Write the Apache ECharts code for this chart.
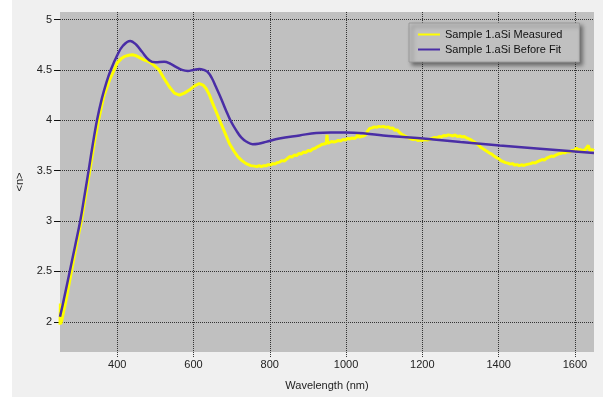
<!DOCTYPE html>
<html>
<head>
<meta charset="utf-8">
<script src="https://cdn.jsdelivr.net/npm/echarts@6/dist/echarts.min.js"></script>
<style>
html,body{margin:0;padding:0;background:#ffffff;}
#chart{position:absolute;left:12px;top:0;width:591px;height:397px;}
</style>
</head>
<body>
<div id="chart"></div>
<script>
var seriesNames = ['Sample 1.aSi Measured', 'Sample 1.aSi Before Fit'];
var xTicks = [400, 600, 800, 1000, 1200, 1400, 1600];
var yTicks = [2, 2.5, 3, 3.5, 4, 4.5, 5];

var measuredWl = [250,251,252,255,265,280,293,306,317,328,340,351,365,380,392,400,410,420,430,440,450,460,470,484,495,510,522,537,550,563,576,589,602,615,625,633,642,650,660,672,683,694,705,716,727,738,750,
  760,766,772,778,784,790,796,802,808,814,820,826,832,838,844,852,858,864,870,876,882,888,894,900,906,912,918,924,930,936,942,948,950,952,956,962,968,974,980,986,992,998,
  1004,1010,1016,1022,1028,1031,1034,1040,1046,1052,1056,1062,1068,1074,1080,1086,1092,1098,1104,1110,1116,1122,1128,1134,1140,1146,1152,1158,1164,1170,1176,1182,1188,1194,1200,
  1206,1212,1219,1226,1232,1238,1244,1250,1256,1262,1268,1274,1280,1286,1292,1298,1304,1310,1316,1322,1328,1334,1340,1346,1352,1358,1364,1370,1376,1382,1388,1394,1400,
  1406,1412,1418,1424,1430,1436,1442,1448,1454,1460,1466,1472,1478,1484,1490,1496,1502,1508,1514,1520,1526,1532,1538,1544,1550,1556,1562,1568,1574,1580,1586,1592,1598,
  1604,1608,1614,1620,1626,1631,1635,1639,1645,1650];
var measuredN = [1.97,2.18,1.98,2.02,2.2,2.5,2.76,3.0,3.25,3.5,3.78,4.0,4.24,4.4,4.5,4.57,4.61,4.635,4.645,4.65,4.64,4.62,4.6,4.58,4.55,4.5,4.42,4.33,4.27,4.25,4.27,4.3,4.34,4.365,4.35,4.315,4.25,4.17,4.08,3.97,3.87,3.77,3.7,3.64,3.6,3.57,3.55,
  3.545,3.54,3.55,3.54,3.55,3.548,3.56,3.556,3.57,3.565,3.58,3.585,3.6,3.595,3.615,3.64,3.635,3.655,3.65,3.67,3.665,3.685,3.68,3.7,3.695,3.715,3.72,3.735,3.745,3.76,3.765,3.77,3.855,3.77,3.78,3.79,3.785,3.79,3.8,3.795,3.81,3.805,
  3.82,3.815,3.825,3.82,3.835,3.875,3.83,3.84,3.845,3.86,3.89,3.92,3.925,3.935,3.93,3.94,3.935,3.94,3.93,3.935,3.92,3.925,3.9,3.905,3.88,3.86,3.85,3.835,3.825,3.815,3.81,3.815,3.8,3.805,3.8,
  3.81,3.805,3.81,3.82,3.83,3.825,3.84,3.835,3.85,3.845,3.855,3.85,3.845,3.855,3.84,3.845,3.835,3.84,3.825,3.815,3.805,3.79,3.775,3.76,3.735,3.72,3.705,3.69,3.675,3.665,3.645,3.63,3.62,
  3.6,3.59,3.58,3.575,3.565,3.57,3.555,3.56,3.55,3.558,3.552,3.56,3.565,3.57,3.58,3.575,3.59,3.6,3.61,3.605,3.625,3.635,3.645,3.64,3.655,3.665,3.67,3.68,3.675,3.69,3.685,3.7,3.695,
  3.725,3.705,3.71,3.7,3.705,3.69,3.75,3.7,3.71,3.7];

var fitWl = [250,260,275,290,303,315,325,335,347,360,372,383,400,415,434,450,465,484,500,523,540,554,570,585,600,615,627,637,648,659,672,685,698,712,725,738,755,770,790,825,878,922,960,1000,1050,1097,1150,1202,1300,1403,1500,1600,1650];
var fitN = [2.05,2.22,2.49,2.76,3.0,3.27,3.5,3.74,4.0,4.22,4.38,4.5,4.646,4.74,4.788,4.75,4.68,4.596,4.575,4.58,4.56,4.53,4.5,4.49,4.5,4.51,4.5,4.48,4.42,4.33,4.22,4.1,3.99,3.9,3.83,3.79,3.763,3.768,3.786,3.82,3.85,3.875,3.88,3.88,3.87,3.85,3.835,3.82,3.785,3.75,3.72,3.69,3.675];

function pairs(xs, ys){ return xs.map(function(x,i){ return [x, ys[i]]; }); }

var chart = echarts.init(document.getElementById('chart'), null, {renderer:'canvas'});
var font = 'Liberation Sans, Arial, sans-serif';
chart.setOption({
  backgroundColor: '#f0f0f0',
  animation: false,
  grid: {left: 48, right: 9, top: 12, bottom: 45, show: true, backgroundColor: '#c0c0c0', borderWidth: 0,
    outerBoundsMode: 'none', containLabel: false},
  legend: {
    orient: 'vertical', left: 397, top: 23,
    padding: [6, 17, 7, 9], itemWidth: 22, itemHeight: 2, itemGap: 4,
    backgroundColor: '#c0c0c0', borderColor: '#9a9a9a', borderWidth: 1,
    shadowColor: 'rgba(0,0,0,0.45)', shadowBlur: 4, shadowOffsetX: 3, shadowOffsetY: 3,
    textStyle: {fontFamily: font, fontSize: 11, color: '#111'},
    data: [{name: seriesNames[0], icon: 'rect'}, {name: seriesNames[1], icon: 'rect'}]
  },
  xAxis: {
    type: 'value', min: 250, max: 1650,
    name: 'Wavelength (nm)', nameLocation: 'middle', nameGap: 28,
    nameTextStyle: {fontFamily: font, fontSize: 11, color: '#222'},
    axisLine: {show: false},
    axisTick: {show: true, length: 5, customValues: xTicks, lineStyle: {color: '#333', type: [1,1]}},
    axisLabel: {customValues: xTicks, fontFamily: font, fontSize: 11, color: '#222', margin: 7,
      formatter: function(v){ return String(v); }},
    splitLine: {show: true, lineStyle: {color: '#333', width: 1, type: [1,1]}}
  },
  yAxis: {
    type: 'value', min: 1.7, max: 5.075,
    name: '<n>', nameLocation: 'middle', nameGap: 28, nameRotate: 90,
    nameTextStyle: {fontFamily: font, fontSize: 11, color: '#222'},
    axisLine: {show: false},
    axisTick: {show: true, length: 6, customValues: yTicks, lineStyle: {color: '#111'}},
    axisLabel: {customValues: yTicks, fontFamily: font, fontSize: 11, color: '#222', margin: 8,
      formatter: function(v){ return String(v); }},
    splitLine: {show: true, lineStyle: {color: '#333', width: 1, type: [1,1]}}
  },
  series: [
    {name: seriesNames[0], type: 'line', data: pairs(measuredWl, measuredN), showSymbol: false, symbol: 'none',
     lineStyle: {color: '#ffff00', width: 3}, itemStyle: {color: '#ffff00'}, z: 2},
    {name: seriesNames[1], type: 'line', data: pairs(fitWl, fitN), showSymbol: false, symbol: 'none', smooth: 0.4,
     lineStyle: {color: '#4a2ea6', width: 2.5}, itemStyle: {color: '#4a2ea6'}, z: 3}
  ]
});
</script>
</body>
</html>
